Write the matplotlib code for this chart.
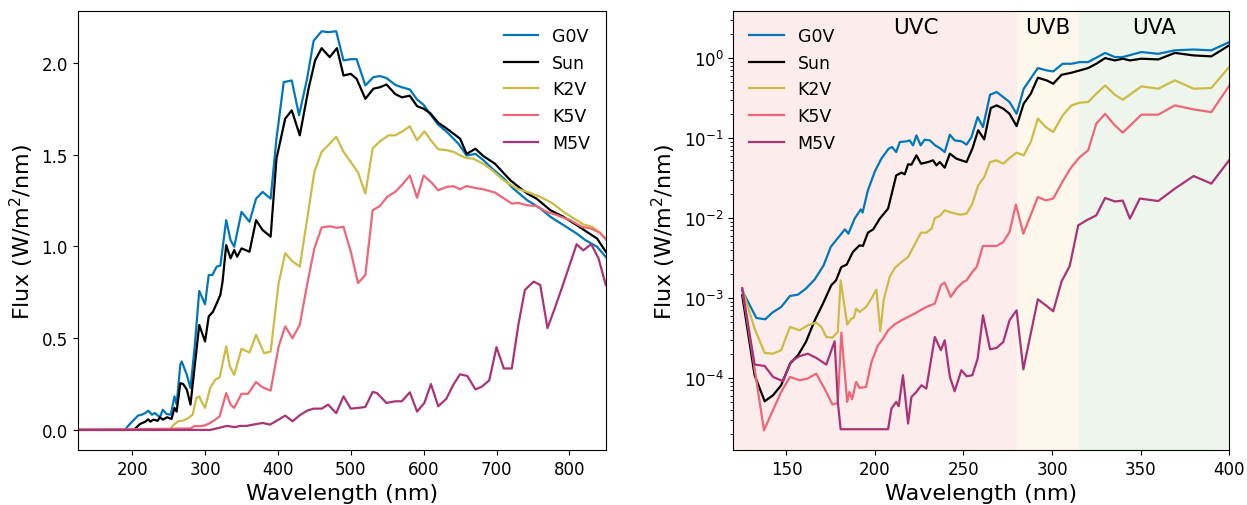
import matplotlib
matplotlib.use('Agg')
import matplotlib.pyplot as plt

# colours for each star
colors = {'G0V': '#0077BB', 'Sun': 'black', 'K2V': '#CCBB44', 'K5V': '#EE6677', 'M5V': '#AA3377'}

# ---- left panel: full spectrum (linear) ----
g0v_wl = [125, 190, 195, 208, 213, 218, 222, 227, 231, 238, 242, 247, 253, 258, 261, 266, 268, 275, 280, 286,
          292, 300, 305, 310, 316, 321, 329, 335, 340, 350, 361, 370, 379, 390, 398, 408, 419, 429, 440, 449,
          460, 469, 480, 490, 500, 508, 520, 531, 540, 549, 561, 570, 581, 591, 600, 609, 620, 632, 648, 659,
          671, 682, 694, 710, 723, 742, 760, 774, 792, 810, 822, 838, 850]
g0v = [0, 0, 0.025, 0.078, 0.083, 0.092, 0.105, 0.083, 0.092, 0.069, 0.11, 0.087, 0.083, 0.183, 0.138, 0.355,
       0.373, 0.30, 0.228, 0.464, 0.757, 0.685, 0.844, 0.844, 0.89, 0.895, 1.143, 1.034, 0.998, 1.188, 1.134,
       1.26, 1.297, 1.26, 1.587, 1.895, 1.904, 1.714, 1.913, 2.12, 2.172, 2.167, 2.172, 2.013, 2.02, 2.02,
       1.877, 1.922, 1.928, 1.917, 1.88, 1.867, 1.855, 1.80, 1.771, 1.72, 1.663, 1.623, 1.558, 1.495, 1.504,
       1.47, 1.424, 1.37, 1.315, 1.252, 1.207, 1.161, 1.116, 1.07, 1.034, 0.998, 0.943]

sun_wl = [125, 202, 206, 211, 218, 222, 225, 229, 235, 238, 242, 248, 254, 258, 261, 266, 270, 275, 280, 286,
          292, 300, 305, 311, 316, 321, 324, 329, 335, 340, 344, 350, 361, 370, 379, 390, 398, 410, 419, 430,
          442, 451, 460, 471, 481, 490, 500, 508, 520, 531, 540, 549, 561, 570, 581, 591, 600, 609, 620, 632,
          650, 659, 671, 682, 698, 719, 742, 755, 774, 792, 810, 824, 838, 850]
sun = [0, 0, 0.015, 0.033, 0.045, 0.058, 0.045, 0.056, 0.05, 0.069, 0.056, 0.069, 0.06, 0.12, 0.10, 0.255,
       0.25, 0.219, 0.138, 0.355, 0.572, 0.482, 0.618, 0.645, 0.69, 0.736, 0.808, 1.007, 0.935, 0.98, 0.944,
       0.989, 0.971, 1.143, 1.089, 1.053, 1.478, 1.696, 1.741, 1.605, 1.859, 2.013, 2.08, 2.031, 2.08, 1.931,
       1.94, 1.913, 1.804, 1.859, 1.867, 1.882, 1.83, 1.812, 1.821, 1.764, 1.75, 1.726, 1.674, 1.641, 1.587,
       1.504, 1.532, 1.492, 1.45, 1.36, 1.288, 1.26, 1.197, 1.161, 1.116, 1.079, 1.043, 0.971]

k2v_wl = [125, 252, 256, 263, 270, 277, 283, 288, 292, 295, 300, 307, 314, 320, 329, 334, 340, 350, 361, 370,
          381, 390, 401, 410, 420, 430, 441, 450, 460, 469, 480, 490, 500, 510, 520, 530, 540, 552, 561, 571,
          581, 591, 601, 611, 620, 632, 641, 652, 659, 668, 682, 694, 710, 728, 742, 760, 776, 792, 810, 819,
          831, 842, 850]
k2v = [0, 0, 0.025, 0.047, 0.051, 0.065, 0.083, 0.174, 0.183, 0.156, 0.12, 0.228, 0.274, 0.286, 0.455, 0.346,
       0.30, 0.442, 0.422, 0.518, 0.418, 0.427, 0.80, 0.963, 0.918, 0.89, 1.171, 1.406, 1.515, 1.551, 1.597,
       1.515, 1.46, 1.402, 1.288, 1.533, 1.573, 1.605, 1.605, 1.627, 1.654, 1.578, 1.627, 1.573, 1.529, 1.524,
       1.515, 1.492, 1.481, 1.478, 1.45, 1.415, 1.36, 1.315, 1.297, 1.27, 1.237, 1.188, 1.143, 1.12, 1.107,
       1.074, 1.043]

k5v_wl = [125, 280, 286, 293, 300, 307, 314, 320, 329, 335, 340, 350, 359, 370, 379, 390, 401, 410, 420, 430,
          440, 450, 460, 471, 481, 490, 500, 510, 520, 530, 540, 550, 561, 571, 581, 591, 600, 611, 620, 632,
          641, 650, 659, 671, 682, 698, 712, 721, 730, 742, 755, 769, 783, 801, 817, 829, 842, 850]
k5v = [0, 0.008, 0.022, 0.02, 0.025, 0.038, 0.056, 0.074, 0.201, 0.138, 0.12, 0.197, 0.197, 0.261, 0.232,
       0.214, 0.455, 0.564, 0.50, 0.573, 0.79, 0.989, 1.103, 1.11, 1.101, 1.107, 0.971, 0.80, 0.844, 1.197,
       1.22, 1.27, 1.297, 1.338, 1.386, 1.265, 1.386, 1.347, 1.306, 1.324, 1.328, 1.311, 1.329, 1.318, 1.311,
       1.293, 1.257, 1.233, 1.237, 1.224, 1.22, 1.188, 1.17, 1.143, 1.107, 1.098, 1.074, 1.038]

m5v_wl = [125, 307, 321, 330, 341, 348, 357, 366, 379, 389, 401, 410, 420, 430, 440, 449, 460, 469, 480, 490,
          500, 510, 520, 530, 536, 549, 561, 570, 581, 591, 601, 610, 620, 631, 641, 650, 660, 671, 680, 690,
          700, 710, 721, 730, 739, 751, 760, 770, 780, 792, 810, 819, 830, 840, 850]
m5v = [0, 0, 0.013, 0.022, 0.015, 0.022, 0.022, 0.029, 0.038, 0.029, 0.056, 0.078, 0.047, 0.08, 0.105, 0.116,
       0.116, 0.138, 0.091, 0.183, 0.116, 0.12, 0.125, 0.207, 0.201, 0.147, 0.156, 0.156, 0.205, 0.10, 0.147,
       0.25, 0.129, 0.169, 0.248, 0.303, 0.294, 0.221, 0.236, 0.27, 0.451, 0.335, 0.335, 0.573, 0.763, 0.808,
       0.79, 0.555, 0.663, 0.80, 1.012, 0.978, 1.012, 0.935, 0.79]

# ---- right panel: UV zoom (log) ----
g0v_uv_wl = [125, 133, 138, 142, 147, 152, 156.5, 161, 166, 171, 175, 178, 183, 185, 188.5, 192, 193, 196, 200,
             203.6, 207.7, 209.6, 212, 214, 217.7, 219.6, 221.5, 223.4, 225.8, 228, 231, 234, 236.6, 239.4,
             242.3, 245, 249, 251.7, 254.5, 258, 261, 265, 268.7, 272.5, 276, 280, 284, 288.5, 292, 297, 300.7,
             306, 311, 315.7, 320.4, 325, 330, 335.5, 340, 350.5, 360, 369.4, 380, 390, 400]
g0v_uv = [1.24e-3, 5.62e-4, 5.41e-4, 6.55e-4, 7.71e-4, 1.06e-3, 1.10e-3, 1.31e-3, 1.71e-3, 2.56e-3, 4.34e-3,
          5.26e-3, 7.21e-3, 6.37e-3, 9.82e-3, 1.28e-2, 1.17e-2, 2.22e-2, 3.86e-2, 5.52e-2, 7.36e-2, 7.71e-2,
          6.68e-2, 8.91e-2, 9.08e-2, 9.35e-2, 8.09e-2, 0.108, 8.09e-2, 9.53e-2, 9.35e-2, 8.09e-2, 7.5e-2,
          6.68e-2, 0.110, 9.35e-2, 9.08e-2, 8.26e-2, 0.103, 0.183, 0.137, 0.348, 0.376, 0.325, 0.282, 0.201,
          0.413, 0.578, 0.75, 0.701, 0.681, 0.849, 0.849, 0.891, 0.891, 1.01, 1.16, 1.03, 1.03, 1.19, 1.13,
          1.25, 1.28, 1.25, 1.58]

sun_uv_wl = [125, 132, 137.7, 142.4, 147, 152, 156.5, 161, 166, 170.6, 175.3, 178, 181, 184, 187.5, 191.3,
             193.2, 196, 199, 202.7, 207.4, 212, 215, 216.8, 218.7, 220.6, 223.4, 226, 230, 232.8, 234.7,
             236.6, 239.4, 242.3, 246, 251.7, 255, 258.3, 261.7, 265.4, 268.7, 272.5, 276, 280, 284, 288, 292,
             297, 300.7, 305.4, 311, 315.7, 320.4, 325, 330, 335.5, 340, 344, 350.5, 360, 369.4, 380, 390, 400]
sun_uv = [1.08e-3, 1.08e-4, 5.1e-5, 6.07e-5, 8.09e-5, 1.51e-4, 1.92e-4, 2.82e-4, 5.26e-4, 8.49e-4, 1.44e-3,
          1.66e-3, 2.44e-3, 2.61e-3, 3.76e-3, 4.55e-3, 4.47e-3, 6.56e-3, 7.21e-3, 9.82e-3, 1.31e-2, 3.41e-2,
          3.69e-2, 3.52e-2, 4.69e-2, 4.65e-2, 6.07e-2, 4.78e-2, 5.01e-2, 5.26e-2, 4.55e-2, 5.01e-2, 4.26e-2,
          6.37e-2, 5.52e-2, 5.01e-2, 7.36e-2, 0.125, 9.62e-2, 0.237, 0.256, 0.233, 0.201, 0.141, 0.269, 0.358,
          0.568, 0.526, 0.478, 0.618, 0.656, 0.701, 0.75, 0.849, 1.0, 0.935, 0.982, 0.935, 0.982, 0.962, 1.16,
          1.08, 1.05, 1.44]

k2v_uv_wl = [125, 132, 137.7, 142.4, 147, 152, 157.4, 162, 166.8, 169.7, 172.5, 176, 179, 180.6, 184.3, 186.6,
             188, 189.4, 191.3, 195, 198, 200.8, 203, 205, 208.3, 211.2, 215, 218.7, 222.4, 226, 229, 232,
             233.8, 236.6, 239.4, 243, 248, 251.7, 255, 258.3, 261.7, 265, 268.7, 272.5, 276, 280, 284, 288, 292,
             296.5, 300.7, 306, 311, 315.7, 320.4, 325, 330, 335.5, 340, 350.5, 360, 369.4, 380, 390, 400]
k2v_uv = [1.31e-3, 4.14e-4, 2.05e-4, 2.01e-4, 2.22e-4, 4.34e-4, 3.94e-4, 4.55e-4, 4.92e-4, 4.34e-4, 3.25e-4,
          3.19e-4, 3.76e-4, 1.66e-3, 4.65e-4, 5.52e-4, 5.62e-4, 7.36e-4, 6.68e-4, 7.71e-4, 9.82e-4, 1.27e-3,
          3.83e-4, 9.62e-4, 1.83e-3, 2.37e-3, 2.82e-3, 3.25e-3, 4.65e-3, 6.56e-3, 6.56e-3, 7.36e-3, 1.0e-2,
          1.06e-2, 1.25e-2, 1.17e-2, 1.10e-2, 1.13e-2, 1.51e-2, 2.56e-2, 3.25e-2, 5.01e-2, 5.26e-2, 4.78e-2,
          5.62e-2, 6.56e-2, 6.07e-2, 8.91e-2, 0.175, 0.137, 0.119, 0.192, 0.256, 0.277, 0.282, 0.358, 0.455,
          0.348, 0.301, 0.443, 0.414, 0.526, 0.414, 0.422, 0.771]

k5v_uv_wl = [125, 132, 137.3, 141.5, 147, 152, 157.4, 162, 166.8, 171.5, 176, 179, 181, 184.3, 185.6, 187,
             189.4, 191.3, 195, 198, 201.7, 204.6, 207.4, 211, 215, 222.4, 229, 233.8, 237.2, 239.4, 242.8, 246,
             249.8, 251.7, 255, 257.4, 261, 265, 268.7, 272.5, 276, 279.6, 283.8, 292, 296.5, 300.7, 306, 311,
             315.7, 320.4, 325, 330, 335.5, 340, 350.5, 360, 369.4, 380, 390, 400]
k5v_uv = [1.33e-3, 1.31e-4, 2.21e-5, 3.58e-5, 6.68e-5, 1.03e-4, 9.35e-5, 9.82e-5, 1.13e-4, 7.36e-5, 4.65e-5,
          4.86e-5, 3.69e-4, 5.01e-5, 6.68e-5, 5.41e-5, 8.91e-5, 7.5e-5, 7.71e-5, 1.58e-4, 2.56e-4, 3.1e-4,
          3.94e-4, 4.65e-4, 5.26e-4, 6.37e-4, 7.71e-4, 8.49e-4, 1.44e-3, 1.56e-3, 1.03e-3, 1.31e-3, 1.58e-3,
          1.66e-3, 2.11e-3, 2.44e-3, 4.47e-3, 4.47e-3, 4.47e-3, 5.01e-3, 6.68e-3, 1.47e-2, 6.37e-3, 1.83e-2,
          1.66e-2, 1.75e-2, 2.87e-2, 4.34e-2, 5.78e-2, 7.01e-2, 0.151, 0.201, 0.144, 0.117, 0.196, 0.196,
          0.256, 0.228, 0.211, 0.447]

m5v_uv_wl = [125, 132, 137.7, 142.4, 148, 152.7, 157.4, 162, 166.8, 172.5, 177.2, 179.1, 180.6, 207.4, 209.3,
             212, 213.4, 215.8, 218.7, 220.6, 223.4, 226.2, 229, 233.8, 237.2, 239.4, 242.3, 245, 248.8, 251.7,
             255, 258, 261, 265, 268.7, 272.5, 276, 280, 283.8, 292, 296.5, 300.7, 305.4, 310, 314.8, 319.5,
             325, 330, 335.5, 340, 344, 349.6, 360, 369.4, 380, 390, 400]
m5v_uv = [1.31e-3, 1.47e-4, 1.41e-4, 1.03e-4, 9.08e-5, 1.61e-4, 1.87e-4, 2.01e-4, 1.78e-4, 1.47e-4, 2.87e-4,
          4.78e-5, 2.28e-5, 2.28e-5, 4.14e-5, 5.01e-5, 4.43e-5, 1.08e-4, 2.69e-5, 5.78e-5, 6.68e-5, 8.09e-5,
          7.36e-5, 3.25e-4, 2.22e-4, 2.96e-4, 1.03e-4, 6.81e-5, 1.25e-4, 1.05e-4, 1.08e-4, 1.75e-4, 6.07e-4,
          2.28e-4, 2.37e-4, 2.82e-4, 5.26e-4, 7.01e-4, 1.28e-4, 9.62e-4, 8.09e-4, 6.81e-4, 1.61e-3, 2.51e-3,
          8.09e-3, 9.35e-3, 1.08e-2, 1.78e-2, 1.61e-2, 1.65e-2, 9.82e-3, 1.75e-2, 1.63e-2, 2.33e-2, 3.35e-2,
          2.69e-2, 5.26e-2]

# UV bands
bands = ['UVC', 'UVB', 'UVA']
band_edges = [(120, 280), (280, 315), (315, 400)]
band_colors = ['#FDECEC', '#FEF8EC', '#EEF5EC']

left_series = [('G0V', g0v_wl, g0v), ('Sun', sun_wl, sun), ('K2V', k2v_wl, k2v),
               ('K5V', k5v_wl, k5v), ('M5V', m5v_wl, m5v)]
right_series = [('G0V', g0v_uv_wl, g0v_uv), ('Sun', sun_uv_wl, sun_uv), ('K2V', k2v_uv_wl, k2v_uv),
                ('K5V', k5v_uv_wl, k5v_uv), ('M5V', m5v_uv_wl, m5v_uv)]

fig = plt.figure(figsize=(12.47, 5.06), dpi=100)
ax1 = fig.add_axes([0.0622, 0.1090, 0.4236, 0.8664])
ax2 = fig.add_axes([0.5881, 0.1090, 0.3975, 0.8664])

for name, wl, fl in left_series:
    ax1.plot(wl, fl, color=colors[name], lw=1.6, label=name)
ax1.set_xlim(125, 850)
ax1.set_ylim(-0.1085, 2.28)
ax1.set_xlabel('Wavelength (nm)', fontsize=16)
ax1.set_ylabel('Flux (W/m$^2$/nm)', fontsize=16)
ax1.tick_params(labelsize=12)
ax1.legend(loc='upper right', frameon=False, fontsize=12.5)

# band labels: UVC label sits right of the band centre
label_x = [223, 297.5, 357.5]
for band, (lo, hi), c, lx in zip(bands, band_edges, band_colors, label_x):
    ax2.axvspan(lo, hi, color=c, lw=0, zorder=0)
    ax2.text(lx, 2.45, band, ha='center', va='center', fontsize=15.5)
for name, wl, fl in right_series:
    ax2.plot(wl, fl, color=colors[name], lw=1.6, label=name)
ax2.set_yscale('log')
ax2.set_xlim(120, 400)
ax2.set_ylim(1.26e-5, 3.83)
ax2.set_xlabel('Wavelength (nm)', fontsize=16)
ax2.set_ylabel('Flux (W/m$^2$/nm)', fontsize=16)
ax2.tick_params(labelsize=12)
ax2.legend(loc='upper left', frameon=False, fontsize=12.5)

fig.savefig('out.png', dpi=100)
